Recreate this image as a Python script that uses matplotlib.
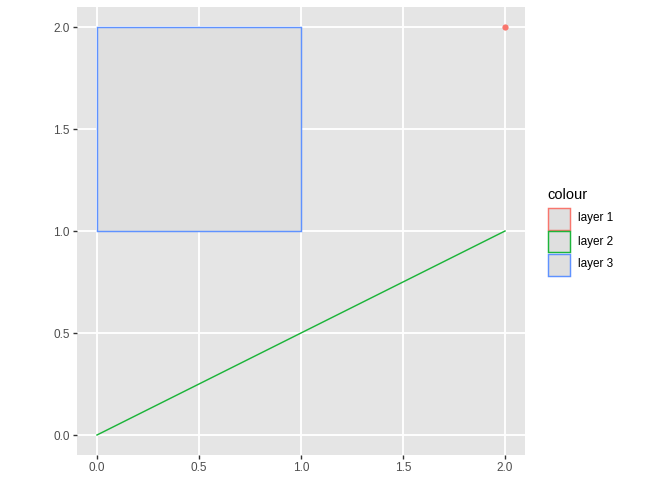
import matplotlib
matplotlib.use("Agg")
import matplotlib.pyplot as plt
from matplotlib.patches import Rectangle

# data
layers = ["layer 1", "layer 2", "layer 3"]
layer_colours = ["#F8766D", "#1DB53B", "#5F92FF"]
point_x, point_y = [2.0], [2.0]
line_x, line_y = [0.0, 2.0], [0.0, 1.0]
rect_xmin, rect_xmax, rect_ymin, rect_ymax = 0.0, 1.0, 1.0, 2.0
ticks = [0.0, 0.5, 1.0, 1.5, 2.0]
tick_labels = ["0.0", "0.5", "1.0", "1.5", "2.0"]

W, H = 672, 480
plt.rcParams["font.family"] = ["Liberation Sans", "DejaVu Sans"]
fig = plt.figure(figsize=(W / 100, H / 100), dpi=100)

left, right, top, bottom = 76.6, 525.4, 6.6, 455.4
ax = fig.add_axes([left / W, 1 - bottom / H, (right - left) / W, (bottom - top) / H])
ax.set_facecolor("#E5E5E5")
for s in ax.spines.values():
    s.set_visible(False)

ax.set_xlim(-0.1, 2.1)
ax.set_ylim(-0.1, 2.1)
ax.set_xticks(ticks)
ax.set_xticklabels(tick_labels)
ax.set_yticks(ticks)
ax.set_yticklabels(tick_labels)
ax.grid(which="major", color="white", linewidth=1.35)
ax.set_axisbelow(True)
ax.tick_params(which="major", length=2.6, width=1.0, color="#333333",
               labelcolor="#4D4D4D", labelsize=8.45, pad=2.2)

# layer 3: rectangle
ax.add_patch(Rectangle((rect_xmin, rect_ymin), rect_xmax - rect_xmin, rect_ymax - rect_ymin,
                       facecolor="#DFDFDF", edgecolor=layer_colours[2], linewidth=1.05, zorder=2))
# layer 2: line
ax.plot(line_x, line_y, color=layer_colours[1], linewidth=1.05, zorder=3)
# layer 1: point
ax.plot(point_x, point_y, "o", color=layer_colours[0], markersize=4.5, markeredgewidth=0, zorder=4)

# legend
def fx(px):
    return px / W

def fy(py):
    return 1 - py / H

fig.text(fx(547), fy(199), "colour", fontsize=10.56, color="black", va="baseline", ha="left")
key_x, key_top, key_w, key_h, key_step = 547.5, 207.5, 22, 22, 23
for i, (lab, col) in enumerate(zip(layers, layer_colours)):
    y0 = key_top + i * key_step
    fig.add_artist(Rectangle((fx(key_x), fy(y0 + key_h)), key_w / W, key_h / H,
                             transform=fig.transFigure, facecolor="#DFDFDF",
                             edgecolor=col, linewidth=1.05))
    fig.text(fx(578), fy(y0 + key_h / 2), lab, fontsize=8.45, color="black",
             va="center", ha="left")

fig.savefig("out.png", dpi=100, facecolor="white")
